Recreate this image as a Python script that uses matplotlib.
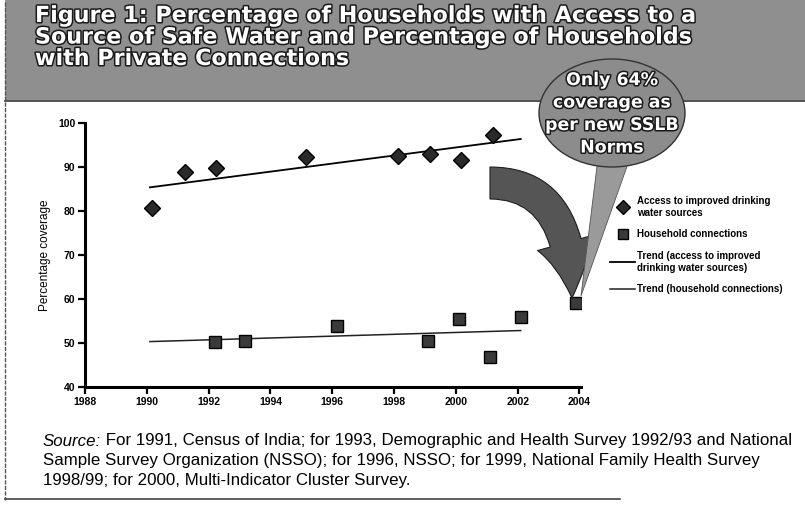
import numpy as np
import matplotlib
matplotlib.use('Agg')
import matplotlib.pyplot as plt
from matplotlib.patches import Ellipse, FancyArrowPatch, Polygon, Rectangle
from matplotlib.lines import Line2D
import matplotlib.patheffects as pe

# ---- data ----
access_years = [1990.16, 1991.25, 1992.23, 1995.16, 1998.12, 1999.15, 2000.18, 2001.19]
access_values = [80.6, 88.8, 89.7, 92.2, 92.6, 92.9, 91.7, 97.2]
household_years = [1992.2, 1993.17, 1996.17, 1999.1, 2000.1, 2001.1, 2002.1, 2003.9]
household_values = [50.3, 50.5, 53.9, 50.5, 55.4, 46.8, 56.0, 59.0]
household_trend_count = 7          # points up to 2002 used for the trend
trend_range = [1990.1, 2002.1]
x_ticks = [1988, 1990, 1992, 1994, 1996, 1998, 2000, 2002, 2004]
y_ticks = [40, 50, 60, 70, 80, 90, 100]

title_lines = ["Figure 1: Percentage of Households with Access to a",
               "Source of Safe Water and Percentage of Households",
               "with Private Connections"]
callout_lines = ["Only 64%", "coverage as", "per new SSLB", "Norms"]
legend_labels = ["Access to improved drinking\nwater sources",
                 "Household connections",
                 "Trend (access to improved\ndrinking water sources)",
                 "Trend (household connections)"]
source_lead = "Source:"
source_lines = [" For 1991, Census of India; for 1993, Demographic and Health Survey 1992/93 and National",
                "Sample Survey Organization (NSSO); for 1996, NSSO; for 1999, National Family Health Survey",
                "1998/99; for 2000, Multi-Indicator Cluster Survey."]

W, H = 805, 513
def px(x, y):
    return (x / W, 1 - y / H)

fig = plt.figure(figsize=(W / 100, H / 100), dpi=100)
fig.patch.set_facecolor('white')

# ---- banner ----
BANNER = 100
fig.add_artist(Rectangle(px(5, BANNER), (W - 5) / W, BANNER / H, transform=fig.transFigure,
                         fc='#8f8f8f', ec='none', zorder=0.5))
fig.add_artist(Line2D([5 / W, 1], [1 - (BANNER + 1) / H] * 2, transform=fig.transFigure,
                      color='#333333', lw=1.2, zorder=0.6))
# box borders
fig.add_artist(Line2D([5 / W, 5 / W], [1 - 2 / H, 1 - 500 / H], transform=fig.transFigure,
                      color='#555555', lw=1.0, ls=(0, (3, 1)), zorder=0.6))
fig.add_artist(Line2D([5 / W, 620 / W], [1 - 499 / H] * 2, transform=fig.transFigure,
                      color='#444444', lw=1.2, zorder=0.6))

outline = [pe.withStroke(linewidth=2.2, foreground='#1a1a1a')]
for i, line in enumerate(title_lines):
    fig.text(*px(35, 16 + 21.5 * i), line, color='white', fontsize=16, fontweight='bold',
             family='DejaVu Sans', va='center', ha='left', path_effects=outline, zorder=1)

# ---- main axes ----
ax = fig.add_axes([85 / W, 1 - 387 / H, (581 - 85) / W, (387 - 123) / H])
ax.set_facecolor('none')

a_fit = np.polyfit(access_years, access_values, 1)
h_fit = np.polyfit(household_years[:household_trend_count],
                   household_values[:household_trend_count], 1)

l_at, = ax.plot(trend_range, np.polyval(a_fit, trend_range), color='black', lw=1.3, zorder=2)
l_ht, = ax.plot(trend_range, np.polyval(h_fit, trend_range), color='#222222', lw=1.1, zorder=2)
s_a, = ax.plot(access_years, access_values, ls='none', marker='D', markersize=8,
               mfc='#2a2a2a', mec='black', mew=1.0, zorder=3)
s_h, = ax.plot(household_years, household_values, ls='none', marker='s', markersize=8,
               mfc='#3a3a3a', mec='black', mew=1.0, zorder=3)

ax.set_xlim(1988, 2004.05)
ax.set_ylim(40, 100)
ax.set_xticks(x_ticks)
ax.set_yticks(y_ticks)
for s in ['top', 'right']:
    ax.spines[s].set_visible(False)
for s in ['left', 'bottom']:
    ax.spines[s].set_linewidth(2.2)
ax.tick_params(direction='out', length=5, width=1.6, pad=2)
for lab in ax.get_xticklabels() + ax.get_yticklabels():
    lab.set_fontsize(7.5)
    lab.set_fontweight('bold')
    lab.set_family('Liberation Sans')
ax.set_ylabel('Percentage coverage', fontsize=8.5, family='Liberation Sans', labelpad=5)

# ---- legend ----
leg = fig.legend([s_a, s_h, l_at, l_ht], legend_labels, loc='upper left',
                 bbox_to_anchor=px(610, 196), bbox_transform=fig.transFigure,
                 frameon=False, fontsize=7, handlelength=2.6, handletextpad=0.2,
                 labelspacing=1.2, borderpad=0, borderaxespad=0, markerscale=0.9)
for t in leg.get_texts():
    t.set_fontweight('bold')
    t.set_family('Liberation Sans')

# ---- curved arrow and callout ----
arrow = FancyArrowPatch(posA=px(490, 183), posB=px(572, 298), transform=fig.transFigure,
                        connectionstyle='angle3,angleA=0,angleB=-90',
                        arrowstyle='simple,head_width=2.1,head_length=2.0,tail_width=1.15',
                        mutation_scale=20, shrinkA=0, shrinkB=0,
                        fc='#555555', ec='#1e1e1e', lw=0.8, zorder=3)
fig.add_artist(arrow)
fig.add_artist(Polygon([px(598, 158), px(630, 158), px(581, 296)], closed=True,
                       transform=fig.transFigure, fc='#9a9a9a', ec='#555555', lw=0.6, zorder=3.5))
fig.add_artist(Ellipse(px(612, 113), 146 / W, 108 / H, transform=fig.transFigure,
                       fc='#8c8c8c', ec='#333333', lw=1.0, zorder=4))
for i, line in enumerate(callout_lines):
    fig.text(*px(612, 80 + 22.5 * i), line, color='white', fontsize=12.5, fontweight='bold',
             family='DejaVu Sans', ha='center', va='center', path_effects=outline, zorder=4.5)

# ---- source text ----
renderer = fig.canvas.get_renderer()
src_font = dict(fontsize=12.2, family='Liberation Sans', va='center', ha='left')
lead = fig.text(*px(43, 441), source_lead, style='italic', **src_font)
bb = lead.get_window_extent(renderer)
fig.text(bb.x1 / W, 1 - 441 / H, source_lines[0], **src_font)
for i, line in enumerate(source_lines[1:], start=1):
    fig.text(*px(43, 441 + 20 * i), line, **src_font)

fig.savefig('out.png', dpi=100)
